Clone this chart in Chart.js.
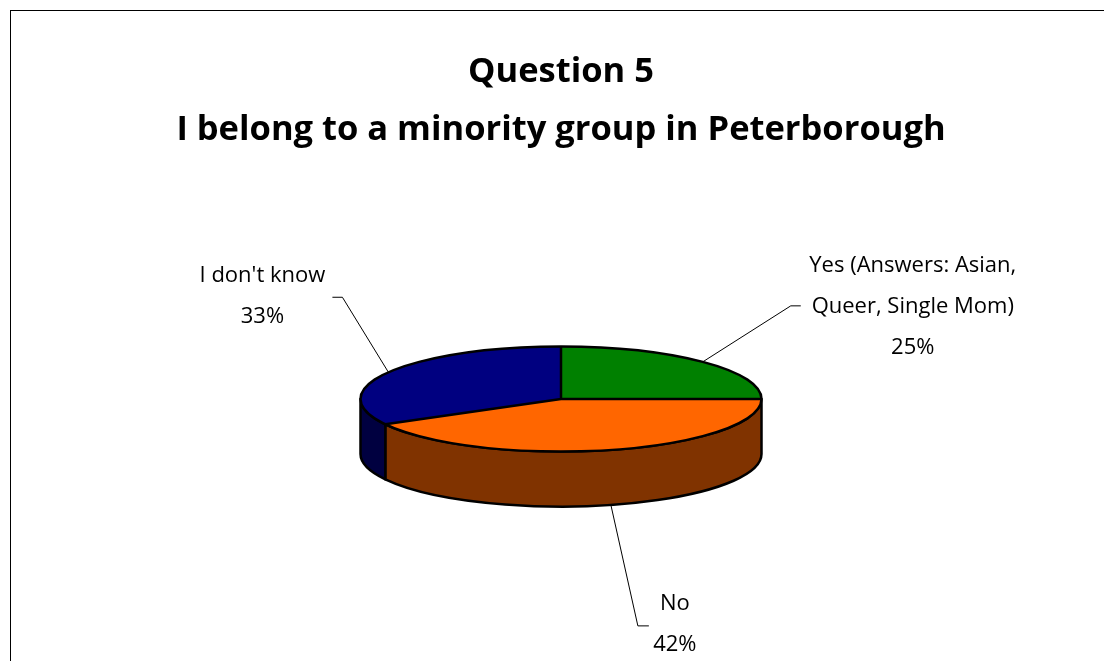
<!DOCTYPE html>
<html>
<head>
<meta charset="utf-8">
<title>Question 5</title>
<script src="https://cdn.jsdelivr.net/npm/chart.js@4/dist/chart.umd.min.js"></script>
<style>
  html, body { margin: 0; padding: 0; background: #fff; overflow: hidden; }
  #wrap { position: absolute; left: 0; top: 0; width: 1122px; height: 661px; }
  #frame { position: absolute; left: 10px; top: 10px; width: 1106px; height: 700px; border: 1px solid #000; pointer-events: none; }
</style>
</head>
<body>
<div id="frame"></div>
<div id="wrap"><canvas id="pieChart"></canvas></div>
<script>
// survey answers, in percent
const categories = [['Yes (Answers: Asian,', 'Queer, Single Mom)'], ['No'], ["I don't know"]];
const answers = [25, 42, 33];
const sliceColors = ['#008000', '#FF6600', '#000080'];
const wallColors = ['#004000', '#803300', '#000040'];

// where each data label sits relative to its slice (leader elbow, tick, text centre)
const labelLayout = [
  { dx: 88, dy: -56, tick: 10, tx: 112, ty: 1 },
  { dx: 27, dy: 121, tick: 11, tx: 26, ty: -2 },
  { dx: -46, dy: -75, tick: -10, tx: -70, ty: -1 }
];

const TITLE_FONT = '"Open Sans", Lato, sans-serif';
const LABEL_FONT = '"Open Sans", Lato, sans-serif';

// draws the flat pie as a tilted disc with a visible rim
const pie3d = {
  id: 'pie3d',
  beforeDatasetsDraw(chart, args, opts) {
    const ctx = chart.ctx;
    const arcs = chart.getDatasetMeta(0).data;
    if (!arcs.length) return false;
    const cx = arcs[0].x, cy = arcs[0].y, r = arcs[0].outerRadius;
    const k = opts.tilt, depth = opts.depth;
    const ry = r * k;

    // rim: only the front half (angles 0..PI) can be seen
    arcs.forEach((arc, i) => {
      const lo = Math.max(arc.startAngle, 0), hi = Math.min(arc.endAngle, Math.PI);
      if (hi <= lo) return;
      ctx.beginPath();
      ctx.ellipse(cx, cy, r, ry, 0, lo, hi);
      ctx.lineTo(cx + r * Math.cos(hi), cy + ry * Math.sin(hi) + depth);
      ctx.ellipse(cx, cy + depth, r, ry, 0, hi, lo, true);
      ctx.closePath();
      ctx.fillStyle = wallColors[i];
      ctx.fill();
      ctx.lineWidth = opts.lineWidth;
      ctx.strokeStyle = '#000';
      ctx.lineJoin = 'round';
      ctx.stroke();
    });

    // top faces, drawn by the arc elements under a vertical squash
    ctx.save();
    ctx.translate(cx, cy);
    ctx.scale(1, k);
    ctx.translate(-cx, -cy);
    arcs.forEach(arc => arc.draw(ctx));
    ctx.restore();

    // outlines of the top face
    ctx.lineWidth = opts.lineWidth;
    ctx.strokeStyle = '#000';
    ctx.beginPath();
    ctx.ellipse(cx, cy, r, ry, 0, 0, Math.PI * 2);
    ctx.stroke();
    ctx.beginPath();
    arcs.forEach(arc => {
      ctx.moveTo(cx, cy);
      ctx.lineTo(cx + r * Math.cos(arc.startAngle), cy + ry * Math.sin(arc.startAngle));
    });
    ctx.stroke();

    // data labels with leader lines
    const total = answers.reduce((a, b) => a + b, 0);
    ctx.font = opts.labelSize + 'px ' + LABEL_FONT;
    ctx.fillStyle = '#000';
    ctx.textAlign = 'center';
    ctx.textBaseline = 'middle';
    arcs.forEach((arc, i) => {
      const m = (arc.startAngle + arc.endAngle) / 2;
      const front = Math.sin(m) > 0.3;
      const ax = cx + r * Math.cos(m);
      const ay = cy + ry * Math.sin(m) + (front ? depth : 0);
      const L = labelLayout[i];
      const ex = ax + L.dx, ey = ay + L.dy;
      ctx.beginPath();
      ctx.lineWidth = 1;
      ctx.moveTo(ax, ay);
      ctx.lineTo(ex, ey);
      ctx.lineTo(ex + L.tick, ey);
      ctx.stroke();
      const lines = categories[i].concat([Math.round(answers[i] / total * 100) + '%']);
      const tx = ex + L.tick + L.tx;
      const ty = ey + L.ty - (lines.length - 1) * opts.lineGap / 2;
      lines.forEach((t, j) => ctx.fillText(t, tx, ty + j * opts.lineGap));
    });
    return false;
  }
};

const ctx = document.getElementById('pieChart').getContext('2d');
new Chart(ctx, {
  type: 'pie',
  data: {
    labels: categories.map(c => c.join(' ')),
    datasets: [{
      data: answers,
      backgroundColor: sliceColors,
      borderWidth: 0,
      hoverOffset: 0,
      radius: 200.5
    }]
  },
  options: {
    responsive: true,
    maintainAspectRatio: false,
    animation: false,
    events: [],
    layout: { padding: { left: 0, right: 0, top: 0, bottom: 22 } },
    plugins: {
      legend: { display: false },
      tooltip: { enabled: false },
      title: {
        display: true,
        text: ['Question 5', 'I belong to a minority group in Peterborough'],
        color: '#000',
        font: { family: TITLE_FONT, size: 34.5, weight: 'bold', lineHeight: '58px' },
        padding: { top: 43, bottom: 0 }
      },
      pie3d: { tilt: 0.262, depth: 55, lineWidth: 2.5, labelSize: 22, lineGap: 41 }
    }
  },
  plugins: [pie3d]
});
</script>
</body>
</html>
